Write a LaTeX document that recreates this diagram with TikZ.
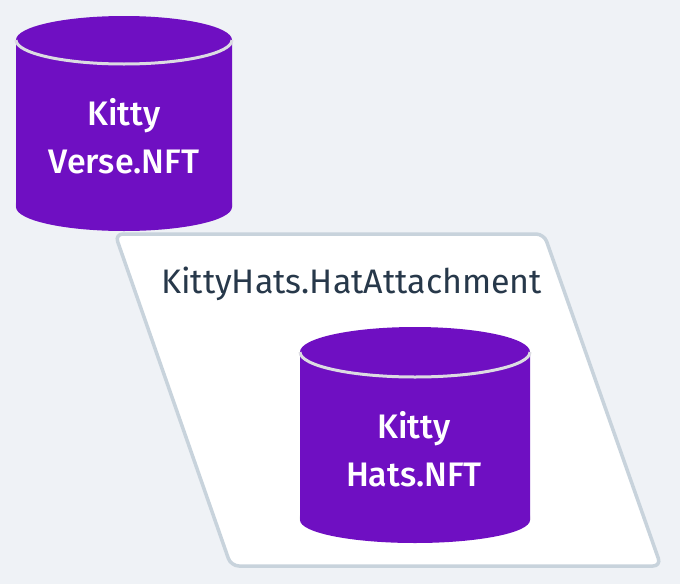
\documentclass[tikz,border=0pt]{standalone}
\usepackage{fontspec}
\setmainfont{Fira Sans}
\newfontfamily\medfont{Fira Sans Medium}
\definecolor{bgcol}{HTML}{EFF2F6}
\definecolor{dbpurple}{HTML}{6F0FC2}
\definecolor{frameline}{HTML}{C8D3DC}
\definecolor{seamline}{HTML}{DCDCE2}
\definecolor{labeltext}{HTML}{27384A}
\tikzset{
  dbbody/.style={rectangle, inner sep=0pt, outer sep=0pt},
  dbtext/.style={text=white, align=center, inner sep=0pt, font=\medfont\fontsize{34}{48}\selectfont},
  seam/.style={draw=seamline, line width=3pt},
  dbshadow/.style={fill=black, opacity=0.035},
  frame/.style={draw=frameline, fill=white, line width=3.5pt, rounded corners=8pt},
  titletext/.style={text=labeltext, inner sep=0pt, font=\fontsize{34}{40}\selectfont}
}
\begin{document}
\begin{tikzpicture}[x=1pt,y=-1pt]
        % background
        \fill[bgcol] (0,0) rectangle (680,584);
        \useasboundingbox (0,0) rectangle (680,584);

        % attachment frame
        \draw[frame] (115,234) -- (544,234) -- (661,566) -- (231,566) -- cycle;
        \node[titletext, anchor=base west] (hat_attach) at (161,293) {KittyHats.HatAttachment};

        % first database
        \node[dbbody, minimum width=216pt, minimum height=167pt] (verse_nft) at (124,123.5) {};
        \fill[dbshadow] ([yshift=4pt]verse_nft.south) ellipse[x radius=108, y radius=25];
        \fill[dbshadow] ([yshift=2pt]verse_nft.south) ellipse[x radius=109, y radius=24];
        \fill[dbpurple] (verse_nft.north west) -- (verse_nft.south west)
            arc[start angle=180, end angle=0, x radius=108, y radius=24] -- (verse_nft.north east)
            arc[start angle=0, end angle=-180, x radius=108, y radius=24] -- cycle;
        \draw[seam] (verse_nft.north west) arc[start angle=180, end angle=0, x radius=108, y radius=24];
        \node[dbtext] (verse_label) at (124,136.5) {Kitty\\Verse.NFT};

        % second database
        \node[dbbody, minimum width=230pt, minimum height=168pt] (hats_nft) at (415,436) {};
        \fill[dbshadow] ([yshift=4pt]hats_nft.south) ellipse[x radius=115, y radius=24];
        \fill[dbshadow] ([yshift=2pt]hats_nft.south) ellipse[x radius=116, y radius=23];
        \fill[dbpurple] (hats_nft.north west) -- (hats_nft.south west)
            arc[start angle=180, end angle=0, x radius=115, y radius=23] -- (hats_nft.north east)
            arc[start angle=0, end angle=-180, x radius=115, y radius=25] -- cycle;
        \draw[seam] (hats_nft.north west) arc[start angle=180, end angle=0, x radius=115, y radius=25];
        \node[dbtext] (hats_label) at (414,449) {Kitty\\Hats.NFT};
\end{tikzpicture}
\end{document}
